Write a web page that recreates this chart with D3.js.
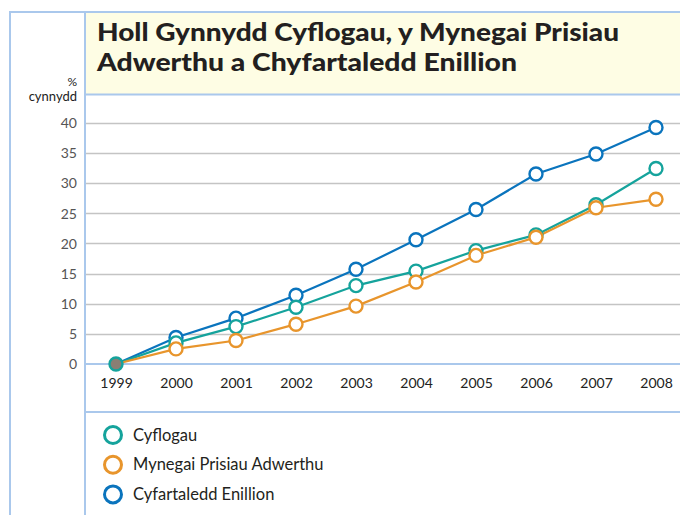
<!DOCTYPE html>
<html><head><meta charset="utf-8">
<script src="https://cdn.jsdelivr.net/npm/d3@7"></script>
<style>html,body{margin:0;padding:0;background:#fff;} svg{display:block;}</style>
</head><body>
<div id="chart"></div>
<script>
const years = ["1999","2000","2001","2002","2003","2004","2005","2006","2007","2008"];
const cyflogau = [0, 3.5, 6.2, 9.4, 13.0, 15.4, 18.8, 21.4, 26.4, 32.4];
const mpa = [0, 2.5, 3.9, 6.6, 9.6, 13.6, 18.0, 21.0, 25.9, 27.3];
const enillion = [0, 4.4, 7.6, 11.4, 15.7, 20.6, 25.6, 31.5, 34.8, 39.2];
const yTicks = [0, 5, 10, 15, 20, 25, 30, 35, 40];
const seriesNames = ["Cyflogau", "Mynegai Prisiau Adwerthu", "Cyfartaledd Enillion"];
const seriesColors = ["#15a39c", "#e8952c", "#0a74bd"];
const titleLines = ["Holl Gynnydd Cyflogau, y Mynegai Prisiau", "Adwerthu a Chyfartaledd Enillion"];

const W = 680, H = 515;
const frameBlue = "#aac8ec";
const font = "Lato, 'Open Sans', sans-serif";
const svg = d3.select("#chart").append("svg").attr("width", W).attr("height", H);

// title box
svg.append("rect").attr("x", 85).attr("y", 13).attr("width", W - 85).attr("height", 81).attr("fill", "#fefde4");
const titleWidths = [522, 420];
svg.append("g").selectAll("text").data(titleLines).join("text")
  .attr("x", 97).attr("y", (d, i) => 41 + i * 30)
  .attr("font-family", font).attr("font-weight", 900).attr("font-size", 25)
  .attr("textLength", (d, i) => titleWidths[i]).attr("lengthAdjust", "spacingAndGlyphs")
  .attr("fill", "#231f20").text(d => d);

// frame lines
svg.append("line").attr("x1", 9).attr("x2", W).attr("y1", 12).attr("y2", 12).attr("stroke", frameBlue).attr("stroke-width", 2);
svg.append("line").attr("x1", 10).attr("x2", 10).attr("y1", 11).attr("y2", H).attr("stroke", frameBlue).attr("stroke-width", 2);
svg.append("line").attr("x1", 85).attr("x2", 85).attr("y1", 11).attr("y2", H).attr("stroke", frameBlue).attr("stroke-width", 2);
svg.append("line").attr("x1", 85).attr("x2", W).attr("y1", 94.5).attr("y2", 94.5).attr("stroke", frameBlue).attr("stroke-width", 2);
svg.append("line").attr("x1", 85).attr("x2", W).attr("y1", 412).attr("y2", 412).attr("stroke", frameBlue).attr("stroke-width", 2);

// scales
const x = d3.scalePoint().domain(years).range([116, 656]);
const y = d3.scaleLinear().domain([0, 40]).range([364, 122.7]);

// grid
const grid = svg.append("g");
grid.selectAll("line").data(yTicks.filter(t => t > 0)).join("line")
  .attr("x1", 86).attr("x2", W).attr("y1", d => Math.round(y(d)) + 0.5).attr("y2", d => Math.round(y(d)) + 0.5)
  .attr("stroke", "#c4c4c4").attr("stroke-width", 1.3);
svg.append("line").attr("x1", 86).attr("x2", W).attr("y1", y(0)).attr("y2", y(0)).attr("stroke", frameBlue).attr("stroke-width", 2);

// y axis labels
const yAxis = d3.axisLeft(y).tickValues(yTicks).tickSize(0).tickPadding(0);
const yg = svg.append("g").attr("transform", "translate(77,0)").call(yAxis);
yg.select(".domain").remove();
yg.selectAll("text").attr("font-family", font).attr("font-size", 14).attr("fill", "#555").attr("dy", "0.35em");

// x axis labels
const xAxis = d3.axisBottom(x).tickSize(0).tickPadding(0);
const xg = svg.append("g").attr("transform", "translate(0,377)").call(xAxis);
xg.select(".domain").remove();
xg.selectAll("text").attr("font-family", font).attr("font-size", 14).attr("fill", "#222").attr("dy", "0.75em");

// axis title
svg.append("text").attr("x", 77).attr("y", 86).attr("text-anchor", "end").attr("font-family", font).attr("font-size", 12).attr("fill", "#222").text("%");
svg.append("text").attr("x", 77).attr("y", 101).attr("text-anchor", "end").attr("font-family", font).attr("font-size", 13).attr("fill", "#222").text("cynnydd");

// series
const data = [cyflogau, mpa, enillion];
const line = d3.line().x((d, i) => x(years[i])).y(d => y(d));
const order = [2, 0, 1];
order.forEach(k => {
  svg.append("path").datum(data[k]).attr("d", line).attr("fill", "none")
    .attr("stroke", seriesColors[k]).attr("stroke-width", 2.2);
});
order.forEach(k => {
  svg.append("g").selectAll("circle").data(data[k].slice(1)).join("circle")
    .attr("cx", (d, i) => x(years[i + 1])).attr("cy", d => y(d)).attr("r", 6.5)
    .attr("fill", "#fff").attr("stroke", seriesColors[k]).attr("stroke-width", 2.4);
});
// first (shared zero) point
svg.append("circle").attr("cx", x(years[0])).attr("cy", y(cyflogau[0])).attr("r", 6.5)
  .attr("fill", "#8a7f74").attr("stroke", seriesColors[0]).attr("stroke-width", 2.4);

// legend
const lg = svg.append("g").selectAll("g").data(seriesNames).join("g")
  .attr("transform", (d, i) => `translate(113,${435 + i * 29.7})`);
lg.append("circle").attr("r", 8.5).attr("fill", "#fff").attr("stroke", (d, i) => seriesColors[i]).attr("stroke-width", 3);
lg.append("text").attr("x", 20).attr("dy", "0.35em").attr("font-family", font).attr("font-size", 16.5).attr("fill", "#231f20").text(d => d);
</script>
</body></html>
